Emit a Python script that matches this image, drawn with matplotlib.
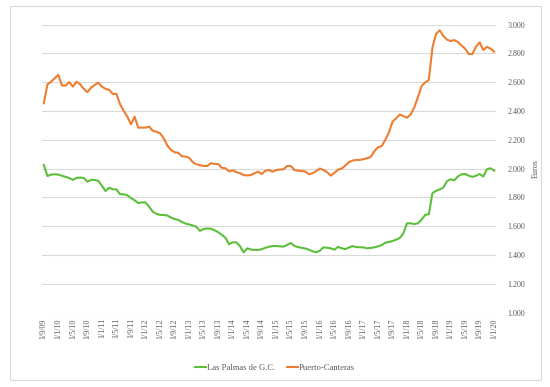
import matplotlib
matplotlib.use('Agg')
import matplotlib.pyplot as plt
import matplotlib.ticker as mticker
import pandas as pd

# Monthly series, Sep 2009 .. Jan 2020 (euros)
months = pd.date_range('2009-09-01', periods=125, freq='MS')

las_palmas = [
    2025, 1948, 1958, 1960, 1958, 1950, 1942, 1935, 1921, 1935,
    1937, 1935, 1909, 1921, 1921, 1915, 1880, 1844, 1867, 1856,
    1855, 1822, 1821, 1815, 1795, 1780, 1760, 1765, 1765, 1735,
    1700, 1686, 1678, 1678, 1674, 1660, 1650, 1643, 1630, 1618,
    1612, 1605, 1595, 1567, 1580, 1584, 1582, 1572, 1558, 1540,
    1520, 1474, 1488, 1488, 1462, 1418, 1446, 1438, 1435, 1435,
    1440, 1450, 1457, 1462, 1462, 1460, 1458, 1470, 1483, 1463,
    1455, 1450, 1445, 1437, 1425, 1418, 1430, 1453, 1450, 1446,
    1437, 1456, 1447, 1440, 1452, 1462, 1455, 1454, 1453, 1446,
    1449, 1453, 1460, 1468, 1485, 1490, 1497, 1506, 1518, 1550,
    1620, 1620, 1615, 1620, 1645, 1678, 1683, 1830, 1845, 1855,
    1868, 1912, 1926, 1918, 1945, 1960, 1962, 1950, 1942, 1950,
    1962, 1945, 1995, 2002, 1985,
]

puerto_canteras = [
    2453, 2585, 2603, 2627, 2650, 2576, 2576, 2600, 2569, 2603,
    2585, 2553, 2530, 2562, 2580, 2596, 2569, 2553, 2546, 2518,
    2518, 2446, 2400, 2360, 2307, 2360, 2284, 2284, 2284, 2291,
    2263, 2255, 2245, 2210, 2160, 2130, 2113, 2110, 2085, 2083,
    2075, 2045, 2030, 2023, 2018, 2018, 2037, 2032, 2032, 2005,
    2002, 1980, 1988, 1975, 1968, 1955, 1952, 1955, 1967, 1978,
    1962, 1985, 1990, 1978, 1990, 1993, 1995, 2018, 2018, 1990,
    1985, 1983, 1980, 1960, 1967, 1983, 2000, 1990, 1975, 1951,
    1970, 1992, 2000, 2020, 2045, 2055, 2060, 2060, 2065, 2072,
    2080, 2120, 2148, 2155, 2198, 2250, 2325, 2348, 2375, 2365,
    2353, 2375, 2425, 2495, 2572, 2598, 2615, 2840, 2935, 2960,
    2920, 2895, 2885, 2892, 2878, 2854, 2832, 2795, 2795, 2846,
    2876, 2823, 2845, 2832, 2812,
]

tick_idx = list(range(0, len(months), 4))
tick_labels = [f'{months[i].day}/{months[i].month}/{months[i].year % 100:02d}' for i in tick_idx]

GREEN = '#5cbf3a'
ORANGE = '#ed7d31'
GRID = '#d9d9d9'
TXT = '#595959'
FONT = 'Liberation Serif'

fig = plt.figure(figsize=(5.5, 3.87), dpi=100)
fig.patch.set_facecolor('white')

# outer chart border
fig.patches.append(plt.Rectangle((10 / 550, 1 - 380 / 387), 531 / 550, 374 / 387,
                                 transform=fig.transFigure, facecolor='none',
                                 edgecolor='#d9d9d9', linewidth=0.8))

ax = fig.add_axes([42 / 550, 1 - 312.6 / 387, 454 / 550, 288.1 / 387])
x = list(range(len(months)))
ax.plot(x, las_palmas, color=GREEN, lw=1.5, label='Las Palmas de G.C.', zorder=3)
ax.plot(x, puerto_canteras, color=ORANGE, lw=1.5, label='Puerto-Canteras', zorder=3)

ax.set_xlim(-0.5, len(months) - 0.5)
ax.set_ylim(1000, 3000)
ax.yaxis.set_major_locator(mticker.MultipleLocator(200))
ax.yaxis.set_major_formatter(mticker.FuncFormatter(lambda v, p: f'{v:,.0f}'.replace(',', '.')))
ax.yaxis.tick_right()
ax.yaxis.set_label_position('right')
ax.grid(axis='y', color=GRID, lw=0.8)
ax.set_axisbelow(True)
for s in ax.spines.values():
    s.set_visible(False)

ax.set_xticks(tick_idx)
ax.set_xticklabels(tick_labels, rotation=90, fontsize=5.8, family=FONT, color=TXT)
ax.tick_params(axis='x', length=0, pad=4)
ax.tick_params(axis='y', length=0, pad=8, labelsize=5.8, labelcolor=TXT)
for lbl in ax.get_yticklabels():
    lbl.set_family(FONT)

ax.set_ylabel('Euros', fontsize=5.9, family=FONT, color=TXT, labelpad=5)

leg = fig.legend(loc='center', bbox_to_anchor=(0.5, 1 - 368 / 387), ncol=2,
                 frameon=False, handlelength=1.3, columnspacing=1.4, handletextpad=0.1,
                 prop={'family': FONT, 'size': 6.2})
for t in leg.get_texts():
    t.set_color(TXT)

fig.savefig('out.png', dpi=100, facecolor='white')
